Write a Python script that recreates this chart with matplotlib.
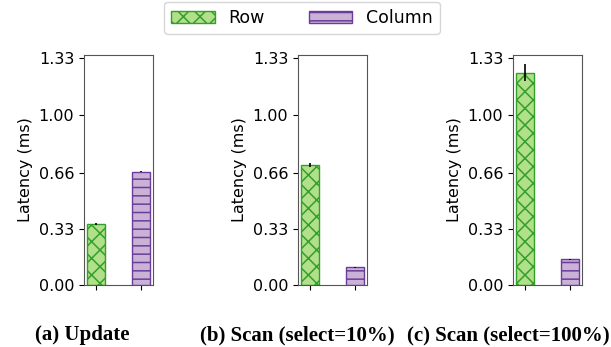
import matplotlib
matplotlib.use("Agg")
import matplotlib.pyplot as plt

layouts = ["Row", "Column"]
captions = ["(a) Update", "(b) Scan (select=10%)", "(c) Scan (select=100%)"]

# latency in ms, one pair (row, column) per panel
update_lat = [0.357, 0.665]
update_err = [0.005, 0.004]
scan10_lat = [0.705, 0.105]
scan10_err = [0.012, 0.003]
scan100_lat = [1.245, 0.15]
scan100_err = [0.05, 0.003]

yticks = [0.0, 0.33, 0.66, 1.00, 1.33]
ytick_labels = ["0.00", "0.33", "0.66", "1.00", "1.33"]

fill_colors = ["#b2df8a", "#cab2d6"]
edge_colors = ["#33a02c", "#6a3d9a"]
hatches = ["xx", "--"]

plt.rcParams["hatch.linewidth"] = 1.1

W, H = 611, 347
fig = plt.figure(figsize=(W / 100, H / 100), dpi=100)

lefts = [84, 298, 513]
panels = [(update_lat, update_err), (scan10_lat, scan10_err), (scan100_lat, scan100_err)]

handles = []
for i, (vals, errs) in enumerate(panels):
    ax = fig.add_axes([lefts[i] / W, 1 - 285 / H, 69 / W, 230 / H])
    for j in range(2):
        b = ax.bar(j, vals[j], width=0.4, yerr=errs[j], color=fill_colors[j],
                   edgecolor=edge_colors[j], hatch=hatches[j], linewidth=1,
                   error_kw=dict(ecolor="black", elinewidth=1.2, capsize=0),
                   label=layouts[j])
        if i == 0:
            handles.append(b)
    ax.set_ylim(0, 1.35)
    ax.set_yticks(yticks)
    ax.set_yticklabels(ytick_labels, fontsize=11.5)
    ax.set_xticks([0, 1])
    ax.set_xticklabels([])
    ax.set_ylabel("Latency (ms)", fontsize=11.5)
    for s in ax.spines.values():
        s.set_color("#555555")

caption_x = [82, 297, 508]
for cx, cap in zip(caption_x, captions):
    fig.text(cx / W, 1 - 335 / H, cap, ha="center", va="center",
             fontsize=15, fontweight="bold", family="Liberation Serif")

fig.legend(handles, layouts, loc="upper center", ncol=2, fontsize=12.5,
           bbox_to_anchor=(302 / W, 1 - 2 / H), handlelength=2.5,
           columnspacing=2.5, borderaxespad=0)

fig.savefig("out.png", dpi=100)
